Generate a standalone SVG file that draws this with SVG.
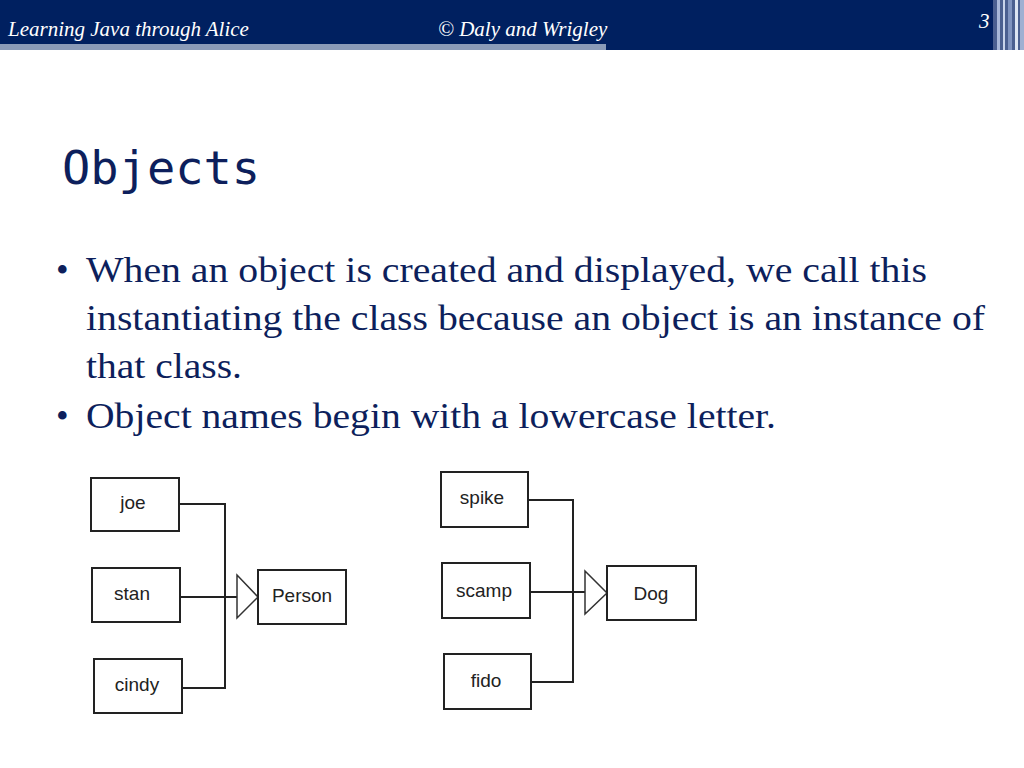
<svg xmlns="http://www.w3.org/2000/svg" width="1024" height="768" viewBox="0 0 1024 768">
<style>
.hd{font-family:"Liberation Serif",serif;font-style:italic;font-size:21px;fill:#fff}
.bx{fill:#fff;stroke:#222;stroke-width:2}
.ln{fill:none;stroke:#222;stroke-width:2}
.tri{fill:#fff;stroke:#333;stroke-width:1.5}
.nt{font-family:"Liberation Sans",Arial,sans-serif;font-size:19px;fill:#222;text-anchor:middle}
.bd{font-family:"Liberation Serif",serif;font-size:36px;fill:#0d1f5c}
</style>
<rect width="1024" height="768" fill="#fff"/>
<rect x="0" y="0" width="1024" height="50" fill="#002060"/>
<rect x="0" y="44" width="606" height="6" fill="#8a9bb8"/>
<rect x="993" y="0" width="31" height="50" fill="#4a5f90"/>
<rect x="997" y="0" width="3" height="50" fill="#a8b8d8"/>
<rect x="1003" y="0" width="2" height="50" fill="#c8d4ea"/>
<rect x="1008" y="0" width="4" height="50" fill="#7f93bf"/>
<rect x="1015" y="0" width="3" height="50" fill="#dce4f2"/>
<rect x="1020" y="0" width="4" height="50" fill="#9fb0d2"/>
<text class="hd" x="8" y="36">Learning Java through Alice</text>
<text class="hd" x="438" y="36">© Daly and Wrigley</text>
<text class="hd" x="979" y="28">3</text>
<text x="62" y="184" font-family="'DejaVu Sans Mono',monospace" font-size="47" fill="#0d1f5c">Objects</text>
<g class="bd">
<text x="56" y="282">•</text><text x="86" y="282" textLength="841" lengthAdjust="spacingAndGlyphs">When an object is created and displayed, we call this</text>
<text x="86" y="330" textLength="899" lengthAdjust="spacingAndGlyphs">instantiating the class because an object is an instance of</text>
<text x="86" y="378" textLength="156" lengthAdjust="spacingAndGlyphs">that class.</text>
<text x="56" y="428">•</text><text x="86" y="428" textLength="690" lengthAdjust="spacingAndGlyphs">Object names begin with a lowercase letter.</text>
</g>
<g id="connectors">
<polyline class="ln" points="179,504 225,504 225,688 182,688"/>
<line class="ln" x1="180" y1="597" x2="238" y2="597"/>
<polygon class="tri" points="237,575 258,597 237,618"/>
<polyline class="ln" points="528,500 573,500 573,682 531,682"/>
<line class="ln" x1="530" y1="592" x2="586" y2="592"/>
<polygon class="tri" points="585,571 607,593 585,614"/>
</g>
<g id="joe"><rect class="bx" x="91" y="478" width="88" height="53"/><text class="nt" x="133" y="509">joe</text></g>
<g id="stan"><rect class="bx" x="92" y="568" width="88" height="54"/><text class="nt" x="132" y="600">stan</text></g>
<g id="cindy"><rect class="bx" x="94" y="659" width="88" height="54"/><text class="nt" x="137" y="691">cindy</text></g>
<g id="person"><rect class="bx" x="258" y="570" width="88" height="54"/><text class="nt" x="302" y="602">Person</text></g>
<g id="spike"><rect class="bx" x="441" y="472" width="87" height="55"/><text class="nt" x="482" y="504">spike</text></g>
<g id="scamp"><rect class="bx" x="442" y="563" width="88" height="55"/><text class="nt" x="484" y="597">scamp</text></g>
<g id="fido"><rect class="bx" x="444" y="654" width="87" height="55"/><text class="nt" x="486" y="687">fido</text></g>
<g id="dog"><rect class="bx" x="607" y="566" width="89" height="54"/><text class="nt" x="651" y="600">Dog</text></g>
</svg>
